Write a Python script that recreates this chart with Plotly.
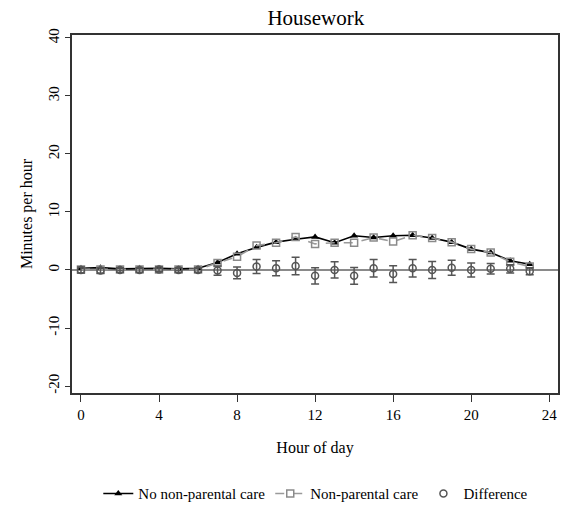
import plotly.graph_objects as go

hours = list(range(24))
no_care = [0.3, 0.4, 0.2, 0.3, 0.3, 0.2, 0.3, 1.3, 2.8, 3.9, 4.8, 5.3, 5.7, 4.7, 5.9, 5.6, 5.9, 6.0, 5.5, 4.8, 3.6, 3.0, 1.6, 1.0]
care = [0.1, 0.1, 0.1, 0.1, 0.1, 0.1, 0.1, 1.2, 2.3, 4.2, 4.7, 5.7, 4.5, 4.7, 4.7, 5.6, 4.9, 6.0, 5.5, 4.8, 3.6, 3.0, 1.4, 0.6]
diff = [0.0, -0.1, 0.0, 0.0, 0.1, 0.0, 0.0, -0.1, -0.5, 0.6, 0.3, 0.7, -1.0, 0.0, -1.0, 0.3, -0.7, 0.3, 0.0, 0.4, 0.0, 0.2, 0.2, -0.2]
diff_ci = [0.5, 0.5, 0.4, 0.4, 0.4, 0.4, 0.4, 0.8, 1.0, 1.2, 1.3, 1.5, 1.4, 1.4, 1.45, 1.5, 1.45, 1.5, 1.45, 1.3, 1.2, 0.9, 0.7, 0.6]

x_ticks = [0, 4, 8, 12, 16, 20, 24]
y_ticks = [-20, -10, 0, 10, 20, 30, 40]

font = "Liberation Serif"

fig = go.Figure()
fig.add_trace(go.Scatter(
    x=hours, y=no_care, mode="lines+markers", name="No non-parental care",
    line=dict(color="black", width=1.6),
    marker=dict(symbol="triangle-up", size=7, color="black"),
))
fig.add_trace(go.Scatter(
    x=hours, y=care, mode="lines+markers", name="Non-parental care",
    line=dict(color="#9a9a9a", width=1.6, dash="dash"),
    marker=dict(symbol="square-open", size=7, color="#8a8a8a", line=dict(width=1.5)),
))
fig.add_trace(go.Scatter(
    x=hours, y=diff, mode="markers", name="Difference",
    marker=dict(symbol="circle-open", size=7, color="#555555", line=dict(width=1.5)),
    error_y=dict(type="data", array=diff_ci, color="#555555", thickness=1.5, width=4),
))

fig.update_layout(
    width=569, height=509,
    margin=dict(l=72, r=9, t=35, b=116),
    paper_bgcolor="white", plot_bgcolor="white",
    font=dict(family=font, size=15, color="black"),
    title=dict(text="Housework", x=0.555, xanchor="center", y=0.965, yanchor="middle",
               font=dict(family=font, size=21, color="black")),
    showlegend=True,
    legend=dict(orientation="h", xref="container", yref="container", x=0.555, xanchor="center",
                y=0.03, yanchor="middle",
                font=dict(family=font, size=15), itemwidth=30, tracegroupgap=0),
)
fig.update_xaxes(
    range=[-0.46, 24.45], tickvals=x_ticks, ticktext=[str(v) for v in x_ticks],
    showgrid=False, zeroline=False, showline=True, linecolor="#333333", linewidth=1.5,
    mirror=True, ticks="outside", ticklen=7, tickcolor="#333333",
    tickfont=dict(family=font, size=15),
    title=dict(text="Hour of day", font=dict(family=font, size=16), standoff=20),
)
fig.update_yaxes(
    range=[-21.2, 40.5], tickvals=y_ticks, ticktext=[str(v) for v in y_ticks],
    showgrid=False, zeroline=True, zerolinecolor="#8a8a8a", zerolinewidth=1.5,
    showline=True, linecolor="#333333", linewidth=1.5, mirror=True,
    ticks="outside", ticklen=5, tickcolor="#333333", tickangle=-90,
    tickfont=dict(family=font, size=15),
    title=dict(text="Minutes per hour", font=dict(family=font, size=16), standoff=10),
)

fig.write_html("out.html")
